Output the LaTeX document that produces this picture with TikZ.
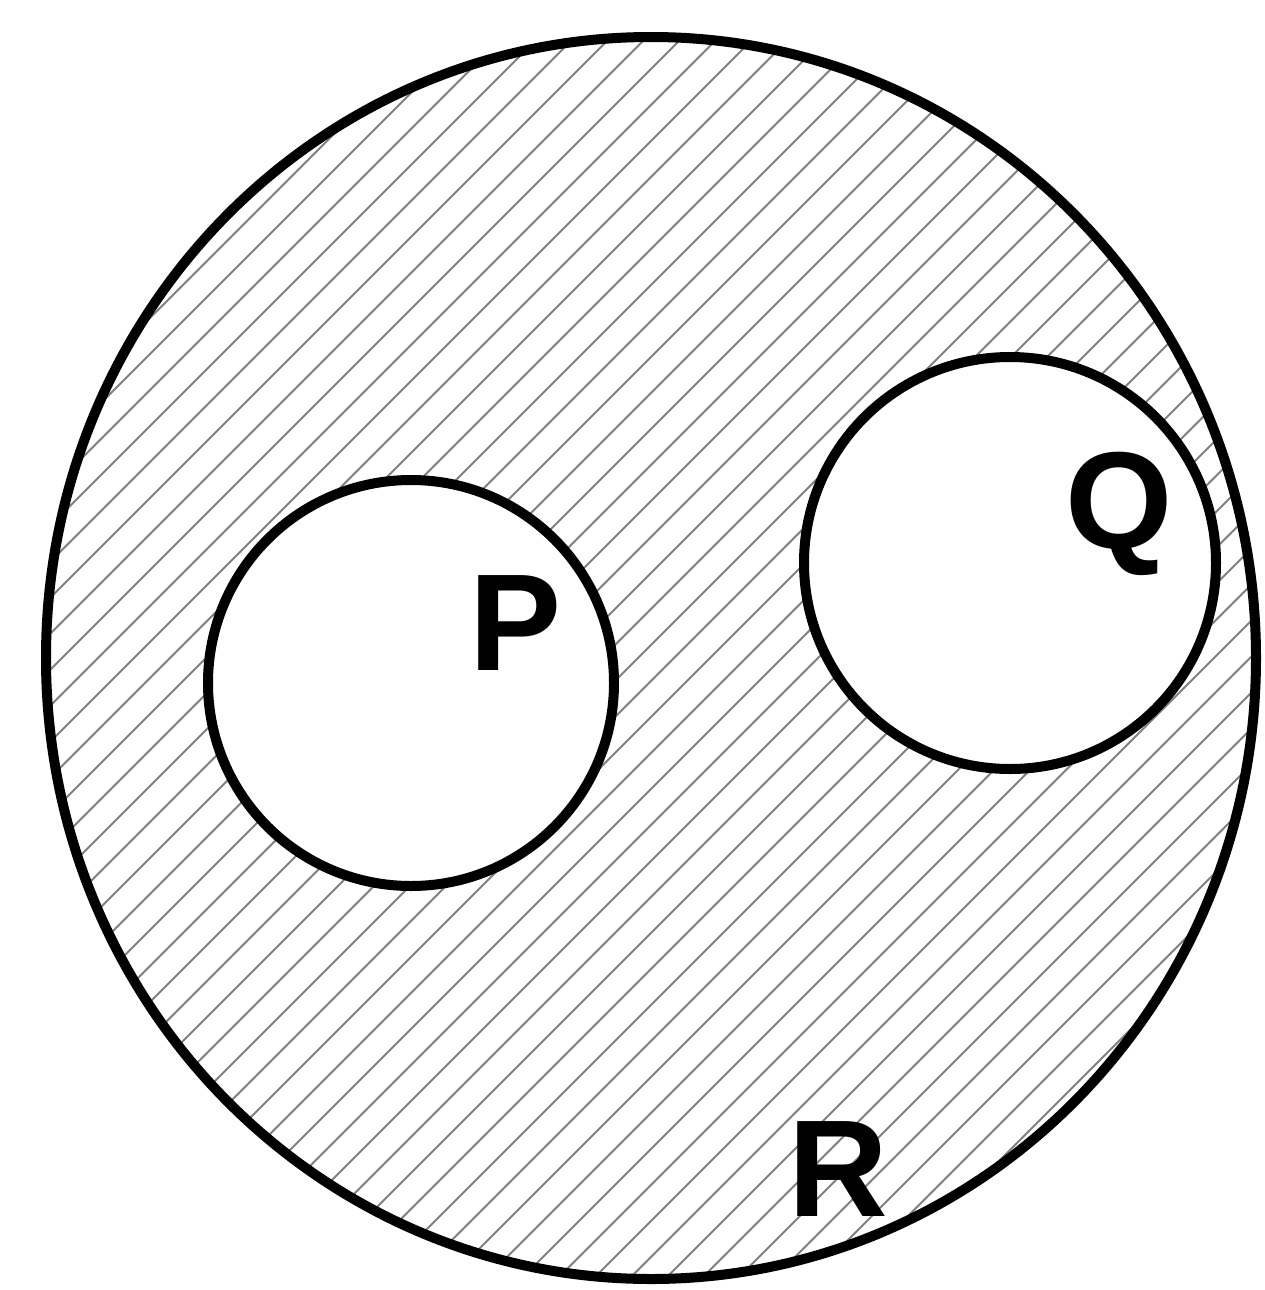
\documentclass[tikz,border=0pt]{standalone}
\usepackage{fontspec}
\setmainfont{Liberation Sans}
\begin{document}
\begin{tikzpicture}[x=1pt,y=-1pt,
  outline/.style={draw=black,line width=10pt},
  hatch/.style={draw=black!50,line width=2pt},
  lbl/.style={font=\fontsize{138}{138}\selectfont\bfseries,inner sep=0pt,anchor=center}]
\useasboundingbox (0,0) rectangle (1264,1290);
\fill[white] (0,0) rectangle (1264,1290);
\begin{scope}[even odd rule]
  \clip (651,658) ellipse [x radius=605,y radius=621]
        (411,683) circle [radius=203]
        (1010,563) circle [radius=206];
  \foreach \c in {0,36,...,2560}{
    \draw[hatch] (\c,0) -- ++(-1300,1300);
  }
\end{scope}
\draw[outline] (651,658) ellipse [x radius=605,y radius=621];
\draw[outline] (411,683) circle [radius=203];
\draw[outline] (1010,563) circle [radius=206];
\node[lbl] (P) at (516,623) {P};
\node[lbl] (Q) at (1119,514) {Q};
\node[lbl] (R) at (838,1169) {R};
\end{tikzpicture}
\end{document}
